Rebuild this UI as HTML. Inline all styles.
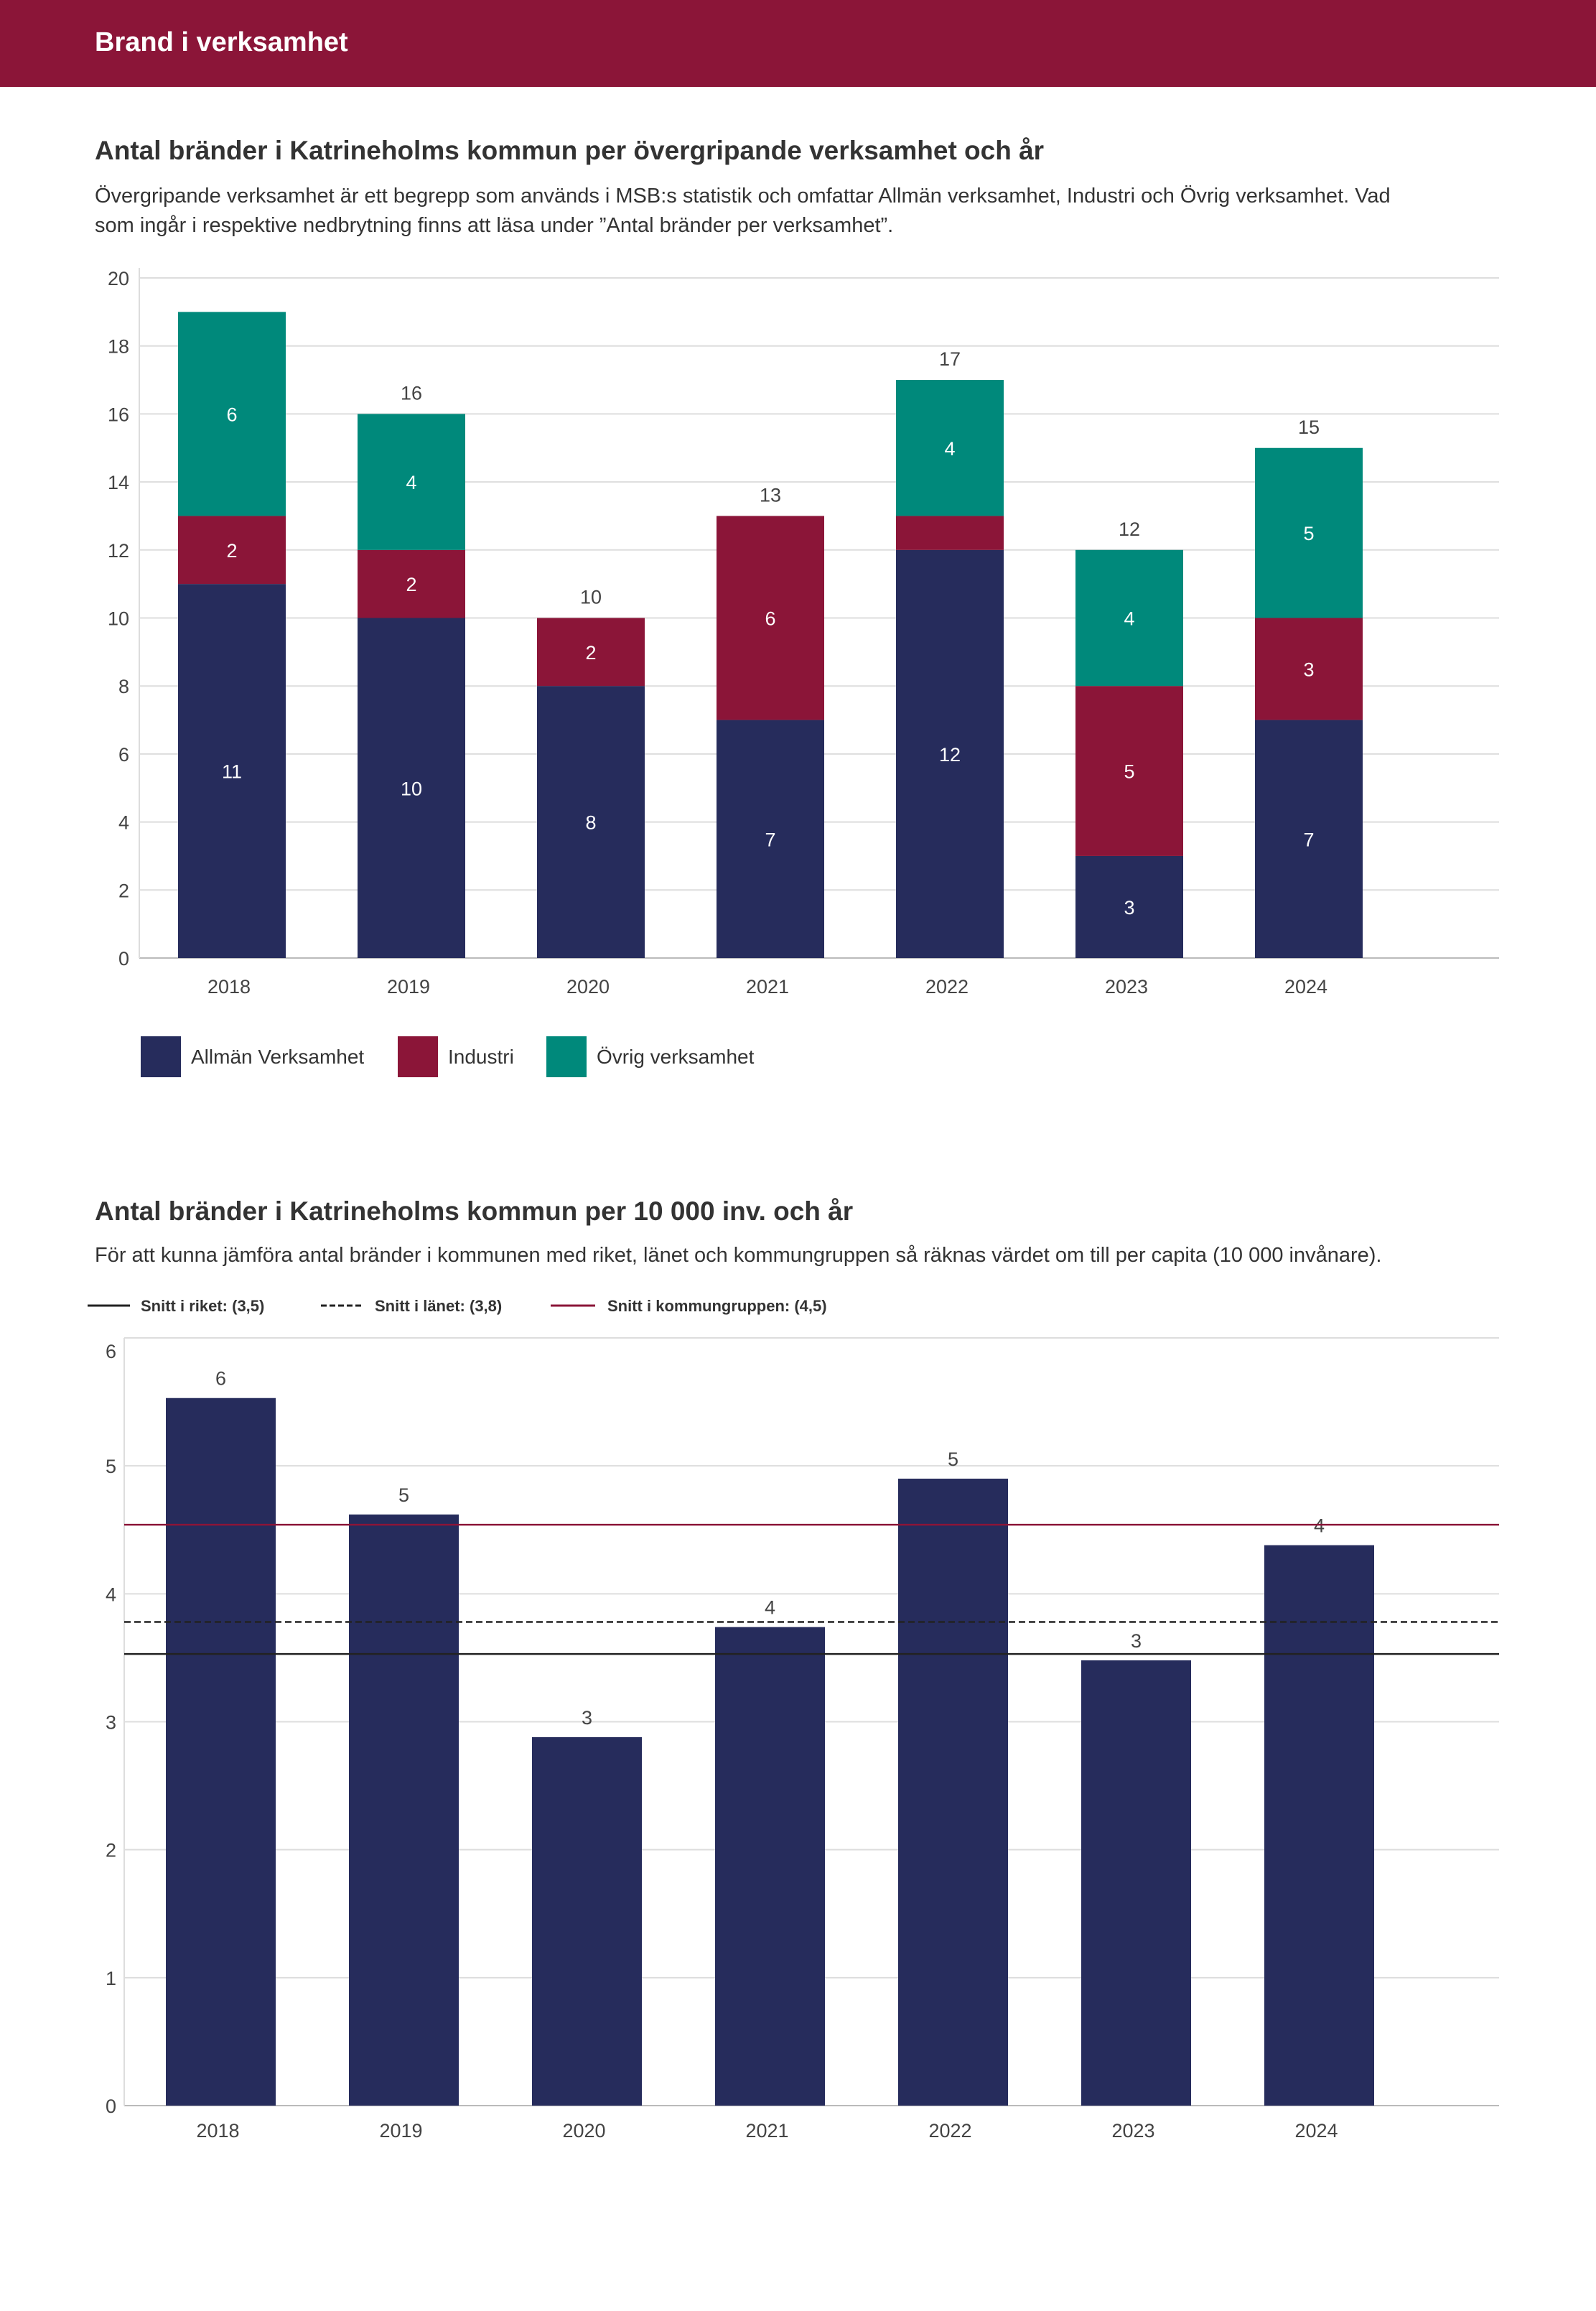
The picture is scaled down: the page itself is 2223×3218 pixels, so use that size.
<!DOCTYPE html>
<html><head><meta charset="utf-8">
<style>
html,body{margin:0;padding:0;background:#fff;}
body{width:2223px;height:3213px;overflow:hidden;font-family:"Liberation Sans",sans-serif;}
svg text{font-family:"Liberation Sans",sans-serif;}
</style></head>
<body>
<svg id="page" width="2223" height="3213" viewBox="0 0 2223 3213" xmlns="http://www.w3.org/2000/svg">
  <rect x="0" y="0" width="2223" height="121" fill="#8b1538"/>
  <text x="132" y="71" font-size="38" font-weight="bold" fill="#fff">Brand i verksamhet</text>

  <text x="132" y="222" font-size="37" font-weight="bold" fill="#333">Antal bränder i Katrineholms kommun per övergripande verksamhet och år</text>
  <text x="132" y="282" font-size="29" fill="#333">Övergripande verksamhet är ett begrepp som används i MSB:s statistik och omfattar Allmän verksamhet, Industri och Övrig verksamhet. Vad</text>
  <text x="132" y="323" font-size="29" fill="#333">som ingår i respektive nedbrytning finns att läsa under ”Antal bränder per verksamhet”.</text>
  <g id="chart1"></g>

  <g>
    <rect x="196" y="1443" width="56" height="57" fill="#262c5c"/>
    <text x="266" y="1481" font-size="28" fill="#333">Allmän Verksamhet</text>
    <rect x="554" y="1443" width="56" height="57" fill="#8b1538"/>
    <text x="624" y="1481" font-size="28" fill="#333">Industri</text>
    <rect x="761" y="1443" width="56" height="57" fill="#00897b"/>
    <text x="831" y="1481" font-size="28" fill="#333">Övrig verksamhet</text>
  </g>

  <text x="132" y="1699" font-size="37" font-weight="bold" fill="#333">Antal bränder i Katrineholms kommun per 10 000 inv. och år</text>
  <text x="132" y="1757" font-size="29" fill="#333">För att kunna jämföra antal bränder i kommunen med riket, länet och kommungruppen så räknas värdet om till per capita (10 000 invånare).</text>

  <g>
    <line x1="122" y1="1818" x2="181" y2="1818" stroke="#222" stroke-width="3"/>
    <text x="196" y="1826" font-size="22" font-weight="bold" fill="#333">Snitt i riket: (3,5)</text>
    <line x1="447" y1="1818" x2="506" y2="1818" stroke="#222" stroke-width="3" stroke-dasharray="8,4"/>
    <text x="522" y="1826" font-size="22" font-weight="bold" fill="#333">Snitt i länet: (3,8)</text>
    <line x1="767" y1="1818" x2="829" y2="1818" stroke="#8b1538" stroke-width="3"/>
    <text x="846" y="1826" font-size="22" font-weight="bold" fill="#333">Snitt i kommungruppen: (4,5)</text>
  </g>
  <g id="chart2"></g>
</svg>
<script>
const years = ["2018","2019","2020","2021","2022","2023","2024"];
const allman = [11,10,8,7,12,3,7];
const industri = [2,2,2,6,1,5,3];
const ovrig = [6,4,0,0,4,4,5];
const totals = [19,16,10,13,17,12,15];
const yTicks1 = [0,2,4,6,8,10,12,14,16,18,20];

const perCapita = [5.53,4.62,2.88,3.74,4.90,3.48,4.38];
const perCapitaLabels = ["6","5","3","4","5","3","4"];
const refValues = [3.53,3.78,4.54];
const yTicks2 = [0,1,2,3,4,5,6];

const NS = "http://www.w3.org/2000/svg";
function mk(tag, attrs, parent){const e=document.createElementNS(NS,tag);for(const k in attrs)e.setAttribute(k,attrs[k]);parent.appendChild(e);return e;}

// Chart 1
(function(){
  const g=document.getElementById('chart1');
  const x0=194,x1=2088,y0=1334,yTop=387,max=20;
  const y=v=>y0-(v/max)*(y0-yTop);
  const cx=i=>323+250*i;
  const bw=150;
  yTicks1.forEach(t=>{
    const l=mk('line',{x1:x0,x2:x1,y1:y(t),y2:y(t),stroke:t===0?'#bbb':'#ddd','stroke-width':2},g);
    
    
    const tx=mk('text',{x:180,y:y(t)+10,'font-size':27,fill:'#444','text-anchor':'end'},g);
    tx.textContent=t;
    
    
  });
  const ax=mk('line',{x1:x0,x2:x0,y1:yTop-14,y2:y0,stroke:'#ddd','stroke-width':2},g);
  
  
  const series=[[allman,'#262c5c','allman'],[industri,'#8b1538','industri'],[ovrig,'#00897b','ovrig']];
  years.forEach((yr,i)=>{
    let base=0;
    series.forEach(([arr,col,nm])=>{
      const v=arr[i];
      if(v>0){
        const r=mk('rect',{x:cx(i)-bw/2,y:y(base+v),width:bw,height:y(base)-y(base+v),fill:col},g);
        
        
        if(v>1){
          const t=mk('text',{x:cx(i),y:y(base+v/2)+10,'font-size':27,fill:'#fff','text-anchor':'middle'},g);
          t.textContent=v;
          
          
        }
      }
      base+=v;
    });
    if(i>0){
      const t=mk('text',{x:cx(i),y:y(totals[i])-20,'font-size':27,fill:'#444','text-anchor':'middle'},g);
      t.textContent=totals[i];
      
      
    }
    const xl=mk('text',{x:cx(i)-4,y:1383,'font-size':27,fill:'#444','text-anchor':'middle'},g);
    xl.textContent=yr;
    
    
  });
})();

// Chart 2
(function(){
  const g=document.getElementById('chart2');
  const x0=173,x1=2088,y0=2932,yTop=1863,max=6;
  const y=v=>y0-(v/max)*(y0-yTop);
  const cx=i=>307.5+255*i;
  const bw=153;
  yTicks2.forEach(t=>{
    const l=mk('line',{x1:x0,x2:x1,y1:y(t),y2:y(t),stroke:t===0?'#bbb':'#ddd','stroke-width':2},g);
    
    
    const tx=mk('text',{x:162,y:y(t)+(t===6?28:10),'font-size':27,fill:'#444','text-anchor':'end'},g);
    tx.textContent=t;
    
    
  });
  const ax=mk('line',{x1:x0,x2:x0,y1:yTop,y2:y0,stroke:'#ddd','stroke-width':2},g);
  
  
  years.forEach((yr,i)=>{
    const r=mk('rect',{x:cx(i)-bw/2,y:y(perCapita[i]),width:bw,height:y0-y(perCapita[i]),fill:'#262c5c'},g);
    
    
    const t=mk('text',{x:cx(i),y:y(perCapita[i])-18,'font-size':27,fill:'#444','text-anchor':'middle'},g);
    t.textContent=perCapitaLabels[i];
    
    
    const xl=mk('text',{x:cx(i)-4,y:2976,'font-size':27,fill:'#444','text-anchor':'middle'},g);
    xl.textContent=yr;
    
    
  });
  const styles=[['#222',null,'ref-line-riket'],['#222','9,5','ref-line-lanet'],['#8b1538',null,'ref-line-kommungrupp']];
  refValues.forEach((v,k)=>{
    const a={x1:x0,x2:x1,y1:y(v),y2:y(v),stroke:styles[k][0],'stroke-width':2.5};
    if(styles[k][1])a['stroke-dasharray']=styles[k][1];
    const l=mk('line',a,g);
    
    
  });
})();
</script>
</body></html>
